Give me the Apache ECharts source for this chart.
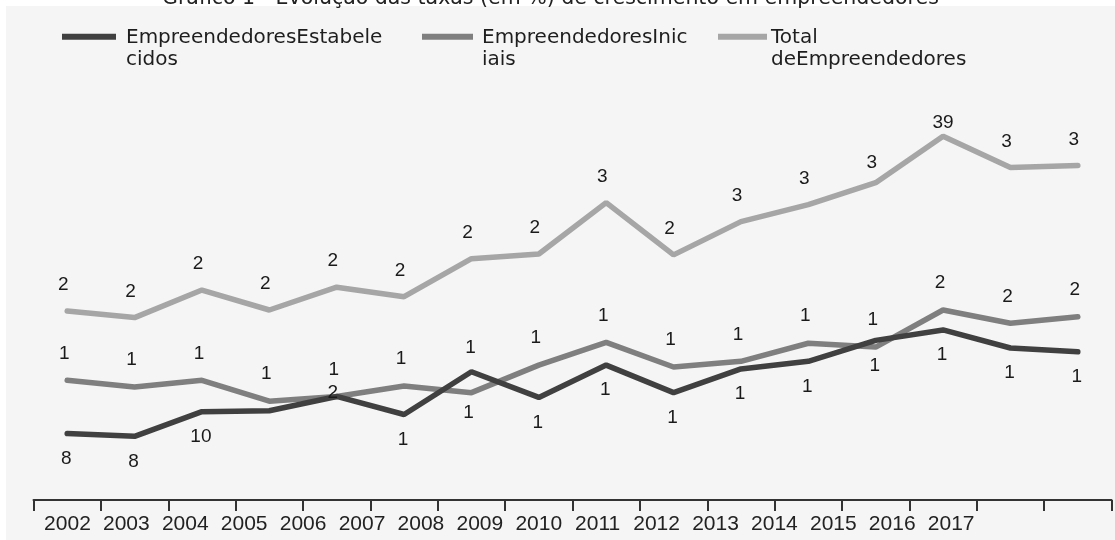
<!DOCTYPE html>
<html><head><meta charset="utf-8">
<script src="https://cdn.jsdelivr.net/npm/echarts@6/dist/echarts.min.js"></script>
<style>
html,body{margin:0;padding:0;width:1115px;height:540px;overflow:hidden;background:#fff;}
#bg{position:absolute;left:6px;top:6px;width:1109px;height:534px;background:#f5f5f5;}
#chart{position:absolute;left:0;top:0;width:1115px;height:540px;}
</style></head><body>
<div id="bg"></div><div id="chart"></div>
<script>
const years = ['2002','2003','2004','2005','2006','2007','2008','2009','2010','2011','2012','2013','2014','2015','2016','2017'];
const estabelecidos = [8.0, 7.7, 10.3, 10.4, 11.9, 10.0, 14.5, 11.8, 15.2, 12.3, 14.8, 15.6, 17.8, 18.9, 17.0, 16.6];
const iniciais = [13.6, 12.9, 13.6, 11.4, 11.9, 13.0, 12.3, 15.2, 17.6, 15.0, 15.6, 17.5, 17.1, 21.0, 19.6, 20.3];
const total = [20.9, 20.2, 23.1, 21.0, 23.4, 22.4, 26.4, 26.9, 32.3, 26.8, 30.3, 32.1, 34.4, 39.3, 36.0, 36.2];
const estabLabels = ['8','8','10','','2','1','1','1','1','1','1','1','1','1','1','1'];
const inicLabels = ['1','1','1','1','1','1','1','1','1','1','1','1','1','2','2','2'];
const totalLabels = ['2','2','2','2','2','2','2','2','3','2','3','3','3','39','3','3'];
const seriesNames = ['EmpreendedoresEstabelecidos','EmpreendedoresIniciais','Total deEmpreendedores'];
const legendTexts = ['EmpreendedoresEstabele\ncidos','EmpreendedoresInic\niais','Total\ndeEmpreendedores'];
const titleText = 'Gráfico 1 - Evolução das taxas (em %) de crescimento em empreendedores';

const chart = echarts.init(document.getElementById('chart'), null, {renderer:'canvas'});

function buildData(values, labels, overrides){
  return values.map((v,i)=>{
    const lab = labels[i] === '' ? {show:false} : {formatter: labels[i]};
    if (overrides[i]) Object.assign(lab, overrides[i]);
    return {value: v, label: lab};
  });
}

const estabOv = {4:{position:'inside', offset:[-4,-4]}, 6:{position:'top', distance:14}};
const inicOv = {6:{position:'bottom', distance:10}};
const totalOv = {12:{distance:10}, 13:{distance:3, offset:[0,0]}};

const arial = "'Liberation Sans', Arial, sans-serif";
const labelBase = {show:true, color:'#1a1a1a', fontFamily:arial, fontSize:19};
const colors = ['#404040','#7f7f7f','#a6a6a6'];

function lineSeries(idx, values, labels, ov, pos, dist, off, z){
  return {
    name: seriesNames[idx], type:'line', xAxisIndex:0, yAxisIndex:0,
    data: buildData(values, labels, ov),
    symbol:'circle', symbolSize:1, showAllSymbol:true,
    lineStyle:{color:colors[idx], width:5.5, cap:'round'},
    itemStyle:{color:colors[idx]},
    label: Object.assign({position:pos, distance:dist, offset:off}, labelBase),
    emphasis:{disabled:true}, z: z, silent:true
  };
}

const legendLefts = [62, 422, 718];
const legendIconW = [54, 51, 49];
const legendTextLefts = [126, 482, 771];
const legendFont = {fontFamily:'DejaVu Sans', fontSize:20, fontWeight:'normal', color:'#1e1e1e', lineHeight:22};

chart.setOption({
  animation:false,
  backgroundColor:'transparent',
  title:[{text:titleText, left:157, top:-17, z:10,
    textStyle:{fontFamily:'DejaVu Sans', fontSize:20.5, fontWeight:'normal', color:'#222'}}]
    .concat([0,1,2].map(i=>({text:legendTexts[i], left:legendTextLefts[i], top:27, padding:0,
      textStyle:legendFont}))),
  legend:[0,1,2].map(i=>({
    data:[seriesNames[i]], left:legendLefts[i], top:33.7, padding:0, icon:'rect',
    itemWidth:legendIconW[i], itemHeight:6, selectedMode:false,
    formatter:()=>'',
    textStyle:{fontSize:6, lineHeight:6}
  })),
  grid:[
    {left:33.5, right:3.5, top:82, bottom:40},
    {left:38, width:942.6, top:82, bottom:40}
  ],
  xAxis:[
    {type:'category', gridIndex:0, data:years, boundaryGap:true,
      axisLine:{show:true, lineStyle:{color:'#333', width:2}},
      axisTick:{show:true, length:11, lineStyle:{color:'#333', width:2}},
      axisLabel:{show:false}, splitLine:{show:false}},
    {type:'category', gridIndex:1, data:years, boundaryGap:true,
      axisLine:{show:false}, axisTick:{show:false}, splitLine:{show:false},
      axisLabel:{show:true, interval:0, margin:14, color:'#222', fontFamily:arial, fontSize:21}}
  ],
  yAxis:[
    {type:'value', gridIndex:0, min:1, max:45, show:false, splitLine:{show:false}},
    {type:'value', gridIndex:1, min:1, max:45, show:false, splitLine:{show:false}}
  ],
  series:[
    lineSeries(0, estabelecidos, estabLabels, estabOv, 'bottom', 15, [-1,0], 4),
    lineSeries(1, iniciais, inicLabels, inicOv, 'top', 17, [-3,0], 3),
    lineSeries(2, total, totalLabels, totalOv, 'top', 16, [-4,0], 2)
  ]
});
</script>
</body></html>
